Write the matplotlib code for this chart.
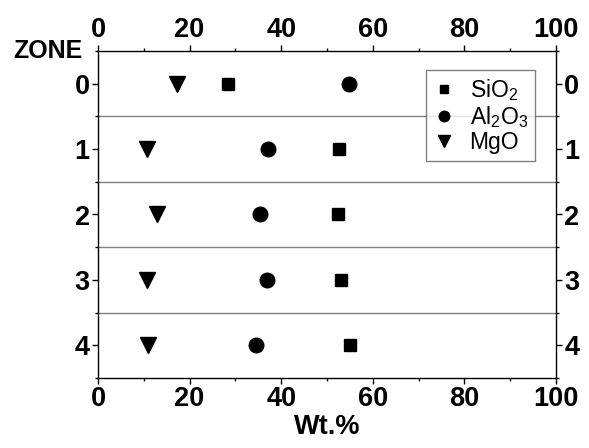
import matplotlib
matplotlib.use("Agg")
import matplotlib.pyplot as plt
from matplotlib.ticker import MultipleLocator

zones = [0, 1, 2, 3, 4]
sio2 = [28.4, 52.6, 52.5, 53.0, 55.1]
al2o3 = [54.7, 37.2, 35.3, 36.8, 34.4]
mgo = [17.3, 10.8, 12.8, 10.8, 11.0]
xticks = [0, 20, 40, 60, 80, 100]

plt.rcParams['font.family'] = ['Liberation Sans', 'DejaVu Sans']
plt.rcParams['mathtext.fontset'] = 'custom'
plt.rcParams['mathtext.rm'] = 'Liberation Sans'
plt.rcParams['mathtext.it'] = 'Liberation Sans'
plt.rcParams['mathtext.bf'] = 'Liberation Sans:bold'

fig = plt.figure(figsize=(5.89, 4.48), dpi=100)
ax = fig.add_axes([98/589, 1 - 378/448, (556-98)/589, (378-51)/448])

for b in [0.5, 1.5, 2.5, 3.5]:
    ax.axhline(b, color='#808080', lw=1.0, zorder=1)

ax.plot(sio2, zones, 's', color='black', ms=8.7, ls='none', label=r'SiO$_\mathrm{2}$', zorder=3)
ax.plot(al2o3, zones, 'o', color='black', ms=10.5, ls='none', label=r'Al$_\mathrm{2}$O$_\mathrm{3}$', zorder=3)
ax.plot(mgo, zones, 'v', color='black', ms=12, ls='none', label='MgO', zorder=3)

ax.set_xlim(0, 100)
ax.set_ylim(4.5, -0.5)
ax.set_xticks(xticks)
ax.xaxis.set_minor_locator(MultipleLocator(10))
ax.set_yticks(zones)
ax.yaxis.set_minor_locator(MultipleLocator(0.5))

ax.tick_params(which='both', direction='out', top=True, right=True,
               labeltop=True, labelright=True, width=1.0, color='black')
ax.tick_params(which='major', length=4, labelsize=19.5, pad=2)
ax.tick_params(which='minor', length=2.5)
for t in ax.xaxis.get_major_ticks() + ax.yaxis.get_major_ticks():
    t.label1.set_fontweight('bold')
    t.label2.set_fontweight('bold')

for s in ax.spines.values():
    s.set_linewidth(1.0)

ax.set_xlabel('Wt.%', fontsize=19.5, fontweight='bold', labelpad=1)
fig.text(82/589, 1 - 51.5/448, 'ZONE', fontsize=18, fontweight='bold',
         ha='right', va='center')

leg = ax.legend(loc='upper left', bbox_to_anchor=((426-98)/458, 1 - (70-51)/327),
                frameon=True, fancybox=False, edgecolor='#606060', fontsize=16.5,
                markerscale=0.72, handlelength=1.0, handletextpad=0.6,
                labelspacing=0.05, borderpad=0.3, borderaxespad=0)
leg.get_frame().set_linewidth(1.0)

fig.savefig('out.png', dpi=100)
